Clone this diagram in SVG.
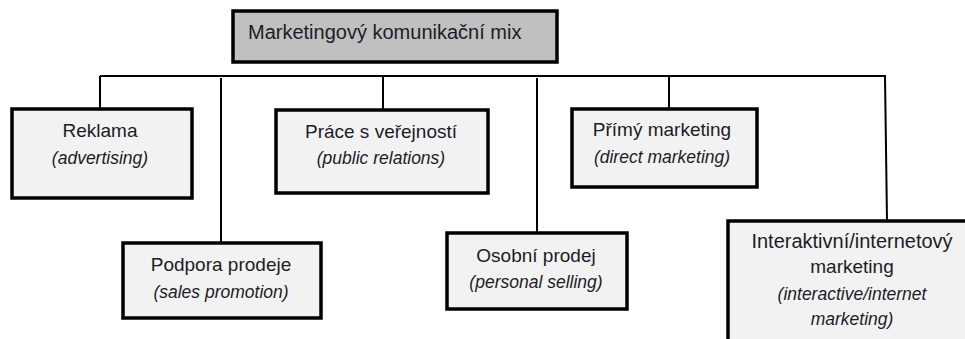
<svg xmlns="http://www.w3.org/2000/svg" width="965" height="339" viewBox="0 0 965 339">
<style>
.box{fill:#f2f2f2;stroke:#000;stroke-width:3.5}
.top{fill:#c0c0c0;stroke:#000;stroke-width:3.5}
.ln{fill:none;stroke:#000;stroke-width:2}
text{font-family:"Liberation Sans",Arial,sans-serif;fill:#1c1c28;text-anchor:middle}
.n{font-size:19px}
.i{font-size:17.5px;font-style:italic}
</style>
<rect width="965" height="339" fill="#fff"/>
<g id="connectors">
<path class="ln" d="M100,76 H886"/>
<path class="ln" d="M100,76 V109"/>
<path class="ln" d="M221,78 V243"/>
<path class="ln" d="M383,76 V110"/>
<path class="ln" d="M537,78 V233"/>
<path class="ln" d="M669,76 V108"/>
<path class="ln" d="M885,76 L887,221"/>
</g>
<g id="root">
<rect class="top" x="233" y="11" width="324" height="51"/>
<text class="n" x="248" y="39" style="text-anchor:start;font-size:20px">Marketingový komunikační mix</text>
</g>
<g id="reklama">
<rect class="box" x="12" y="109" width="180" height="89"/>
<text class="n" x="100" y="137">Reklama</text>
<text class="i" x="100" y="164">(advertising)</text>
</g>
<g id="podpora">
<rect class="box" x="123" y="243" width="198" height="75"/>
<text class="n" x="221" y="271">Podpora prodeje</text>
<text class="i" x="221" y="298">(sales promotion)</text>
</g>
<g id="prace">
<rect class="box" x="276" y="110" width="212" height="83"/>
<text class="n" x="381" y="138">Práce s veřejností</text>
<text class="i" x="381" y="164">(public relations)</text>
</g>
<g id="osobni">
<rect class="box" x="447" y="233" width="180" height="76"/>
<text class="n" x="536" y="262">Osobní prodej</text>
<text class="i" x="536" y="288">(personal selling)</text>
</g>
<g id="primy">
<rect class="box" x="572" y="109" width="185" height="78"/>
<text class="n" x="662" y="136">Přímý marketing</text>
<text class="i" x="662" y="163">(direct marketing)</text>
</g>
<g id="interaktivni">
<rect class="box" x="728" y="221" width="260" height="140"/>
<text class="n" x="852" y="248" style="font-size:20px">Interaktivní/internetový</text>
<text class="n" x="852" y="273">marketing</text>
<text class="i" x="852" y="300">(interactive/internet</text>
<text class="i" x="852" y="325">marketing)</text>
</g>
</svg>
